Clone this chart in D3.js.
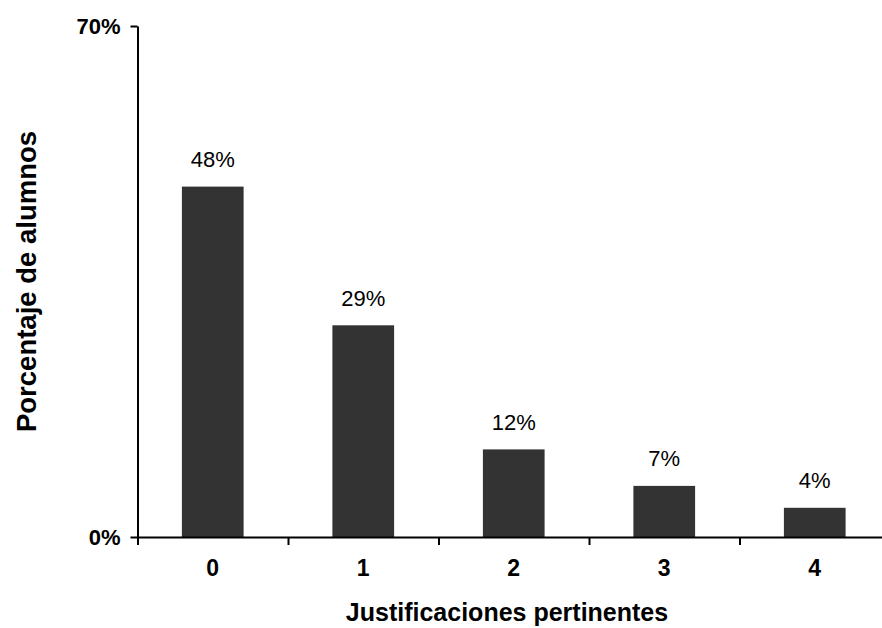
<!DOCTYPE html>
<html>
<head>
<meta charset="utf-8">
<script src="https://cdn.jsdelivr.net/npm/d3@7"></script>
<style>
  html, body { margin: 0; padding: 0; background: #fff; }
  svg { display: block; font-family: "Liberation Sans", Arial, sans-serif; }
</style>
</head>
<body>
<svg id="chart" width="882" height="628"></svg>
<script>
// Number of pertinent justifications given per student
const categories = ["0", "1", "2", "3", "4"];
// Share of students (%) in each category
const values = [48, 29, 12, 7, 4];
// Y axis tick labels (%)
const yTicks = [0, 70];

(function () {
  const svg = d3.select("#chart");
  const plotLeft = 137.5, plotRight = 890, plotTop = 26, plotBottom = 537;

  const x = d3.scaleBand()
    .domain(categories)
    .range([plotLeft, plotRight])
    .paddingInner(0.59)
    .paddingOuter(0.295);

  const xEdge = d3.scaleLinear().domain([0, categories.length]).range([plotLeft, plotRight]);

  const y = d3.scaleLinear().domain([0, 70]).range([plotBottom, plotTop]);

  // Bars
  svg.append("g")
    .selectAll("rect")
    .data(values)
    .join("rect")
    .attr("x", (d, i) => x(categories[i]))
    .attr("width", x.bandwidth())
    .attr("y", d => y(d))
    .attr("height", d => y(0) - y(d))
    .attr("fill", "#333333");

  // Value labels above each bar
  svg.append("g")
    .selectAll("text")
    .data(values)
    .join("text")
    .attr("x", (d, i) => x(categories[i]) + x.bandwidth() / 2)
    .attr("y", d => y(d) - 19.5)
    .attr("text-anchor", "middle")
    .attr("font-size", 22)
    .attr("fill", "#000")
    .text(d => d + "%");

  // X axis: line with ticks at category boundaries
  const xAxis = svg.append("g")
    .attr("transform", `translate(0,${plotBottom})`)
    .call(d3.axisBottom(xEdge)
      .tickValues(d3.range(categories.length + 1))
      .tickSize(8)
      .tickSizeOuter(0)
      .tickFormat(""));
  xAxis.selectAll("path, line").attr("stroke", "#000").attr("stroke-width", 2);

  // X category labels
  const xLabels = svg.append("g")
    .attr("transform", `translate(0,${plotBottom})`)
    .call(d3.axisBottom(x).tickSize(0).tickPadding(23));
  xLabels.select(".domain").remove();
  xLabels.selectAll("text")
    .attr("font-size", 23)
    .attr("font-weight", "bold")
    .attr("fill", "#000")
    .attr("font-family", "Liberation Sans, Arial, sans-serif");

  // Y axis
  const yAxis = svg.append("g")
    .attr("transform", `translate(${plotLeft},0)`)
    .call(d3.axisLeft(y)
      .tickValues(yTicks)
      .tickSize(7)
      .tickSizeOuter(0)
      .tickPadding(10)
      .tickFormat(d => d + "%"));
  yAxis.selectAll("path, line").attr("stroke", "#000").attr("stroke-width", 2);
  yAxis.selectAll("text")
    .attr("font-size", 22)
    .attr("font-weight", "bold")
    .attr("fill", "#000")
    .attr("font-family", "Liberation Sans, Arial, sans-serif");

  // Axis titles
  svg.append("text")
    .attr("x", 507)
    .attr("y", 621)
    .attr("text-anchor", "middle")
    .attr("font-size", 25)
    .attr("font-weight", "bold")
    .text("Justificaciones pertinentes");

  svg.append("text")
    .attr("transform", `translate(36,${(plotTop + plotBottom) / 2}) rotate(-90)`)
    .attr("text-anchor", "middle")
    .attr("font-size", 27.5)
    .attr("font-weight", "bold")
    .text("Porcentaje de alumnos");
})();
</script>
</body>
</html>
